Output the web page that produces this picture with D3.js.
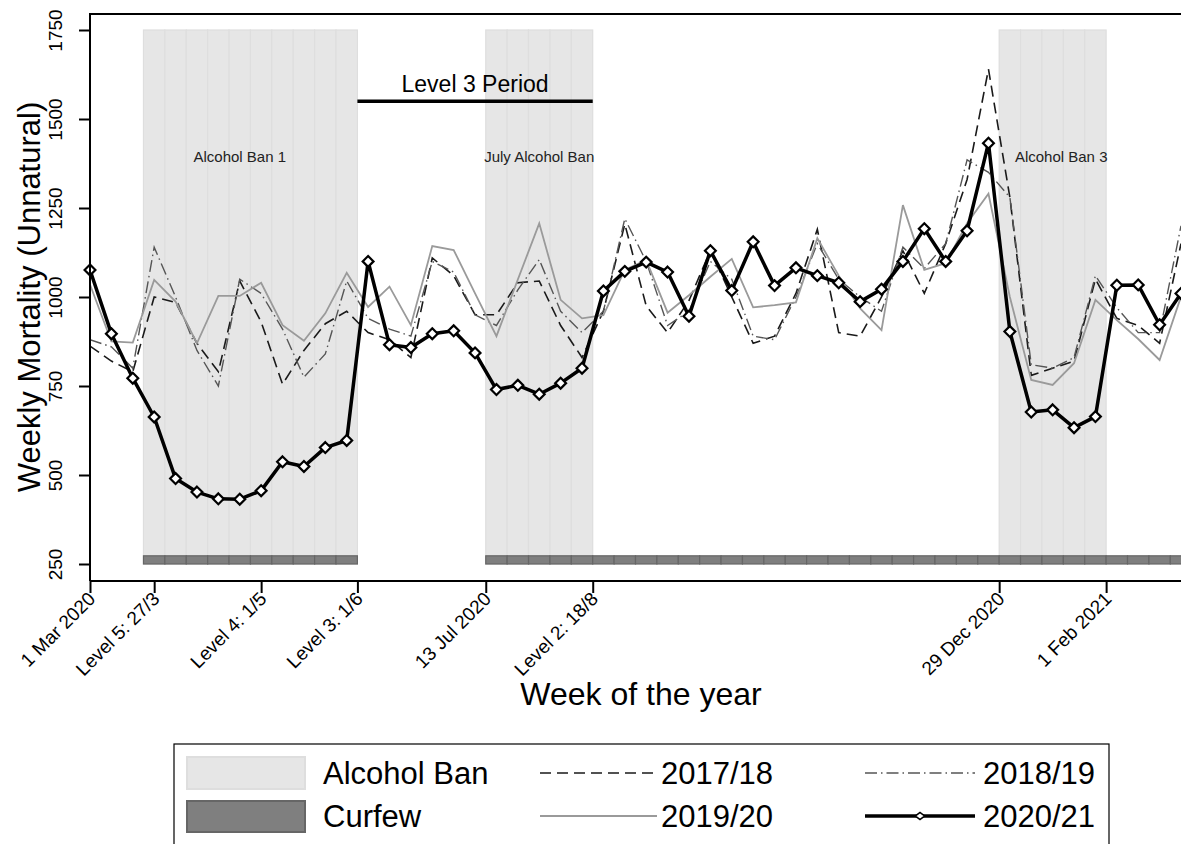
<!DOCTYPE html>
<html>
<head>
<meta charset="utf-8">
<script src="https://cdn.jsdelivr.net/npm/d3@7"></script>
<style>
    body { margin: 0; background: #fff; }
    svg { display: block; font-family: "Liberation Sans", Arial, sans-serif; }
    .axis path, .axis line { stroke: #000; stroke-width: 2; }
    .axis text { fill: #000; font-family: "Liberation Sans", Arial, sans-serif; }
</style>
</head>
<body>
<div id="chart"></div>
<script>
const weeks = [0,1,2,3,4,5,6,7,8,9,10,11,12,13,14,15,16,17,18,19,20,21,22,23,24,25,
    26,27,28,29,30,31,32,33,34,35,36,37,38,39,40,41,42,43,44,45,46,47,48,49,50,51]
const s1718 = [862,820,790,1000,985,870,790,1045,930,755,850,925,960,900,880,830,1110,1060,950,950,
    1040,1045,920,830,960,1205,975,900,990,1130,1000,870,890,1010,1190,900,890,1000,1130,1010,
    1150,1330,1640,1280,780,800,820,1050,940,920,870,1150]
const s1819 = [880,860,800,1140,1000,850,750,1050,1010,910,775,840,1045,940,910,890,1100,1070,950,920,
    1020,1105,960,900,960,1220,1100,920,960,1100,1050,890,880,1000,1150,1050,1000,960,1140,1080,
    1150,1385,1350,1280,810,800,830,1060,970,900,900,1200]
const s1920 = [1035,875,872,1048,987,870,1003,1003,1040,921,877,954,1068,972,1029,921,1143,1132,1010,890,
    1049,1207,992,940,949,1076,1104,956,1005,1057,1107,971,977,985,1165,1060,968,907,1258,1076,
    1095,1207,1290,1000,767,753,814,992,935,882,823,1001]
const s2021 = [1076,897,772,663,490,452,433,432,456,537,524,577,597,1100,866,858,897,905,843,740,
    752,727,758,800,1017,1072,1098,1070,946,1130,1018,1155,1032,1082,1060,1040,987,1022,1100,1192,
    1100,1186,1432,903,677,683,633,664,1033,1034,922,1010]
const alcoholBanWeeks = [3,4,5,6,7,8,9,10,11,12,19,20,21,22,23,43,44,45,46,47]
const curfewWeeks = [3,4,5,6,7,8,9,10,11,12,19,20,21,22,23,24,25,26,27,28,29,30,31,32,33,34,35,
    36,37,38,39,40,41,42,43,44,45,46,47,48,49,50,51,52]
const yTicks = [250,500,750,1000,1250,1500,1750]
const xTickWeeks = [0,3,8,12.5,18.5,23.5,42.5,47.5]
const xTickLabels = ["1 Mar 2020","Level 5: 27/3","Level 4: 1/5","Level 3: 1/6","13 Jul 2020","Level 2: 18/8","29 Dec 2020","1 Feb 2021"]
const banLabels = [
    { text : "Alcohol Ban 1", week : 7 },
    { text : "July Alcohol Ban", week : 21 },
    { text : "Alcohol Ban 3", week : 45.4 },
]
const level3 = { text : "Level 3 Period", from : 12.5, to : 23.5, value : 1550 }

const series = [
    { name : "2017/18", values : s1718, color : "#1a1a1a", width : 1.6, dash : "11,6" },
    { name : "2018/19", values : s1819, color : "#555", width : 1.4, dash : "12,4,1.5,4" },
    { name : "2019/20", values : s1920, color : "#9a9a9a", width : 1.8, dash : null },
]

drawChart()
function drawChart(){
    const W = 1181, H = 844
    const plot = { left : 90, top : 14, bottom : 581, right : 1181 }

    const svg = d3.select('#chart').append('svg')
    .attr('width', W)
    .attr('height', H)

    const xScale = d3.scaleLinear()
    .domain([0, 51])
    .range([plot.left, plot.right])

    const yScale = d3.scaleLinear()
    .domain([250, 1750])
    .range([564, 30])

    svg.append('clipPath').attr('id','clip')
    .append('rect')
    .attr('x', plot.left).attr('y', plot.top)
    .attr('width', plot.right - plot.left).attr('height', plot.bottom - plot.top)

    const inner = svg.append('g').attr('clip-path','url(#clip)')
    const bw = xScale(1) - xScale(0)

    //Alcohol ban bars
    inner.selectAll('.ban')
    .data(alcoholBanWeeks)
    .enter()
        .append('rect')
        .attr('x', (d) => xScale(d) - bw / 2)
        .attr('y', yScale(1750))
        .attr('width', bw)
        .attr('height', yScale(250) - yScale(1750))
        .attr('fill', '#e6e6e6')
        .attr('stroke', '#dedede')
        .attr('stroke-width', 1.2)

    //Curfew bars
    inner.selectAll('.curfew')
    .data(curfewWeeks)
    .enter()
        .append('rect')
        .attr('x', (d) => xScale(d) - bw / 2)
        .attr('y', yScale(273))
        .attr('width', bw)
        .attr('height', yScale(250) - yScale(273))
        .attr('fill', '#7f7f7f')
        .attr('stroke', '#666')
        .attr('stroke-width', 1.2)

    //Ban labels
    svg.selectAll('.banlabel')
    .data(banLabels)
    .enter()
        .append('text')
        .attr('x', (d) => xScale(d.week))
        .attr('y', 162)
        .attr('text-anchor','middle')
        .attr('font-size', 15)
        .attr('fill', '#222')
        .text((d) => d.text)

    //Level 3 period
    svg.append('line')
    .attr('x1', xScale(level3.from)).attr('x2', xScale(level3.to))
    .attr('y1', yScale(level3.value)).attr('y2', yScale(level3.value))
    .attr('stroke', '#000').attr('stroke-width', 3.5)
    svg.append('text')
    .attr('x', (xScale(level3.from) + xScale(level3.to)) / 2)
    .attr('y', yScale(level3.value) - 9)
    .attr('text-anchor','middle')
    .attr('font-size', 23)
    .text(level3.text)

    //Lines
    const line = d3.line()
    .x((d,i) => xScale(weeks[i]))
    .y((d) => yScale(d))

    series.forEach(function(s){
        inner.append('path')
        .datum(s.values)
        .attr('fill','none')
        .attr('stroke', s.color)
        .attr('stroke-width', s.width)
        .attr('stroke-dasharray', s.dash)
        .attr('d', line)
    })

    inner.append('path')
    .datum(s2021)
    .attr('fill','none')
    .attr('stroke','#000')
    .attr('stroke-width', 3.5)
    .attr('stroke-linejoin','round')
    .attr('d', line)

    const diamond = d3.symbol().type(d3.symbolDiamond2).size(75)
    svg.selectAll('.pt')
    .data(s2021)
    .enter()
        .append('path')
        .attr('d', diamond)
        .attr('transform', (d,i) => `translate(${xScale(weeks[i])},${yScale(d)})`)
        .attr('fill','#fff')
        .attr('stroke','#000')
        .attr('stroke-width', 2.2)

    //Axes
    const yAxis = svg.append('g')
    .attr('class','axis')
    .attr('transform', `translate(${plot.left},0)`)
    .call(d3.axisLeft(yScale).tickValues(yTicks).tickFormat(d3.format('d')).tickSize(11).tickSizeOuter(0))
    yAxis.select('.domain').attr('d', `M0,${plot.top}V${plot.bottom}`)
    yAxis.selectAll('text')
    .attr('font-size', 19)
    .attr('transform', 'rotate(-90)')
    .attr('x', 0).attr('y', -28)
    .attr('dy', 0)
    .attr('text-anchor','middle')

    const xAxis = svg.append('g')
    .attr('class','axis')
    .attr('transform', `translate(0,${plot.bottom})`)
    .call(d3.axisBottom(xScale).tickValues(xTickWeeks).tickSize(12).tickSizeOuter(0)
        .tickFormat((d,i) => xTickLabels[i]))
    xAxis.select('.domain').attr('d', `M${plot.left},0H${plot.right}`)
    xAxis.selectAll('text')
    .attr('font-size', 19)
    .attr('text-anchor','end')
    .attr('dy', 0)
    .attr('y', 0)
    .attr('transform', 'translate(6,19) rotate(-45)')

    //Top border
    svg.append('line')
    .attr('x1', plot.left - 1).attr('x2', plot.right)
    .attr('y1', plot.top).attr('y2', plot.top)
    .attr('stroke','#000').attr('stroke-width', 2)

    //Axis titles
    svg.append('text')
    .attr('x', 641).attr('y', 705)
    .attr('text-anchor','middle')
    .attr('font-size', 32)
    .text('Week of the year')

    svg.append('text')
    .attr('transform', `translate(40,297) rotate(-90)`)
    .attr('text-anchor','middle')
    .attr('font-size', 31)
    .text('Weekly Mortality (Unnatural)')

    //Legend
    const legend = svg.append('g')
    legend.append('rect')
    .attr('x', 174).attr('y', 744)
    .attr('width', 935).attr('height', 110)
    .attr('fill','#fff').attr('stroke','#000').attr('stroke-width', 1.2)

    legend.append('rect')
    .attr('x', 187).attr('y', 757).attr('width', 118).attr('height', 32)
    .attr('fill','#e6e6e6').attr('stroke','#dedede').attr('stroke-width', 2)
    legend.append('rect')
    .attr('x', 187).attr('y', 801).attr('width', 118).attr('height', 31)
    .attr('fill','#7f7f7f').attr('stroke','#666').attr('stroke-width', 2)

    const legendItems = [
        { text : "Alcohol Ban", x : 323, y : 784 },
        { text : "Curfew", x : 323, y : 827 },
        { text : series[0].name, x : 661, y : 784 },
        { text : series[2].name, x : 661, y : 827 },
        { text : series[1].name, x : 983, y : 784 },
        { text : "2020/21", x : 983, y : 827 },
    ]
    legend.selectAll('text')
    .data(legendItems)
    .enter()
        .append('text')
        .attr('x', (d) => d.x)
        .attr('y', (d) => d.y)
        .attr('font-size', 31)
        .text((d) => d.text)

    const legendLines = [
        { s : series[0], x1 : 540, x2 : 657, y : 773 },
        { s : series[2], x1 : 540, x2 : 657, y : 816 },
        { s : series[1], x1 : 865, x2 : 975, y : 773 },
    ]
    legendLines.forEach(function(l){
        legend.append('line')
        .attr('x1', l.x1).attr('x2', l.x2).attr('y1', l.y).attr('y2', l.y)
        .attr('stroke', l.s.color)
        .attr('stroke-width', l.s.width)
        .attr('stroke-dasharray', l.s.dash)
    })
    legend.append('line')
    .attr('x1', 865).attr('x2', 975).attr('y1', 816).attr('y2', 816)
    .attr('stroke','#000').attr('stroke-width', 3.5)
    legend.append('path')
    .attr('d', d3.symbol().type(d3.symbolDiamond2).size(40))
    .attr('transform', 'translate(920,816) scale(1.2,0.9)')
    .attr('fill','#fff').attr('stroke','#000').attr('stroke-width', 1.5)
}
</script>
</body>
</html>
